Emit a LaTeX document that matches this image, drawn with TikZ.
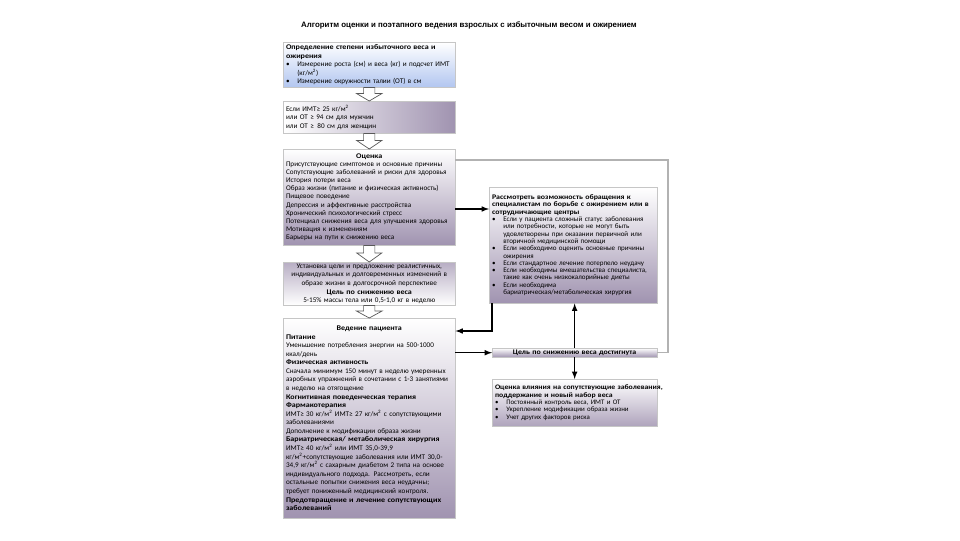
\documentclass[tikz,border=0pt]{standalone}
\usepackage{fontspec}
\setmainfont{Carlito}[BoldFeatures={FakeStretch=1.12}]
\newfontfamily\titlefont{Liberation Sans}
\usepackage{tikz}
\usetikzlibrary{calc}
\definecolor{mauve}{RGB}{160,147,176}
\definecolor{paleblue}{RGB}{178,198,240}
\newcommand{\itm}{\makebox[8pt][l]{\textbullet}}
\newcommand{\cnt}{\hspace*{8pt}}
\newcommand{\kgm}{кг/м\textsuperscript{2}}

\begin{document}
\begin{tikzpicture}[x=0.025cm, y=-0.025cm, >=latex,
	box/.style={draw=gray!45, line width=0.3pt, anchor=north west, inner xsep=2pt, inner ysep=1pt, align=left, font=\fontsize{5.1}{6.1}\selectfont},
	small/.style={font=\fontsize{5}{5.2}\selectfont},
	hollow/.style={draw=gray!70!black, fill=white, line width=0.5pt},
	link/.style={->, line width=0.8pt},
	back/.style={draw=gray!60, line width=0.8pt}]
	%\draw[help lines] (0,0) grid[step=50] (960,540);
	\useasboundingbox (0,0) rectangle (960,540);
	\node[font=\titlefont\bfseries\fontsize{5.6}{6}\selectfont] (title) at (469,25) {Алгоритм оценки и поэтапного ведения взрослых с избыточным весом и ожирением};

	% left column
	\node[box, text width=4.16cm, minimum height=1.125cm, top color=white, bottom color=paleblue] (b1) at (283,42) {\textbf{Определение степени избыточного веса и}\\ \textbf{ожирения}\\ \itm Измерение роста (см) и веса (кг) и подсчет ИМТ\\ \cnt(\kgm)\\ \itm Измерение окружности талии (ОТ) в см};
	\node[box, text width=4.16cm, minimum height=0.8cm, left color=white, right color=mauve] (b2) at (283,101) {Если ИМТ≥ 25 \kgm\\ или ОТ ≥ 94 см для мужчин\\ или ОТ ≥\, 80 см для женщин};
	\node[box, text width=4.16cm, minimum height=2.4cm, top color=white, bottom color=mauve, font=\fontsize{5.1}{5.8}\selectfont] (b3) at (283,149) {\makebox[\linewidth]{\textbf{Оценка}}\\ Присутствующие симптомов и основные причины\\ Сопутствующие заболеваний и риски для здоровья\\ История потери веса\\ Образ жизни (питание и физическая активность)\\ Пищевое поведение\\ Депрессия и аффективные расстройства\\ Хронический психологический стресс\\ Потенциал снижения веса для улучшения здоровья\\ Мотивация к изменениям\\ Барьеры на пути к снижению веса};
	\node[box, text width=4.16cm, minimum height=1.075cm, top color=mauve!75, bottom color=white, align=center] (b4) at (283,262) {Установка цели и предложение реалистичных,\\ индивидуальных и долговременных изменений в\\ образе жизни в долгосрочной перспективе\\ \textbf{Цель по снижению веса}\\ 5-15\% массы тела или 0,5-1,0 кг в неделю};
	\node[box, text width=4.16cm, minimum height=5cm, top color=white, bottom color=mauve] (b5) at (283,318) {\makebox[\linewidth]{\textbf{Ведение пациента}}\\ \textbf{Питание}\\ Уменьшение потребления энергии на 500-1000\\ ккал/день\\ \textbf{Физическая активность}\\ Сначала минимум 150 минут в неделю умеренных\\ аэробных упражнений в сочетании с 1-3 занятиями\\ в неделю на отягощение\\ \textbf{Когнитивная поведенческая терапия}\\ \textbf{Фармакотерапия}\\ ИМТ≥ 30 \kgm{} ИМТ≥ 27 \kgm{} с сопутствующими\\ заболеваниями\\ Дополнение к модификации образа жизни\\ \textbf{Бариатрическая/ метаболическая хирургия}\\ ИМТ≥ 40 \kgm{} или ИМТ 35,0-39,9\\ \kgm+сопутствующие заболевания или ИМТ 30,0-\\ 34,9 \kgm{} с сахарным диабетом 2 типа на основе\\ индивидуального подхода. Рассмотреть, если\\ остальные попытки снижения веса неудачны;\\ требует пониженный медицинский контроля.\\ \textbf{Предотвращение и лечение сопутствующих}\\ \textbf{заболеваний}};

	% right column
	\node[box, small, text width=4.06cm, minimum height=2.9cm, top color=white, bottom color=mauve] (b6) at (489,187) {\textbf{Рассмотреть возможность обращения к}\\ \textbf{специалистам по борьбе с ожирением или в}\\ \textbf{сотрудничающие центры}\\ \itm Если у пациента сложный статус заболевания\\ \cnt или потребности, которые не могут быть\\ \cnt удовлетворены при оказании первичной или\\ \cnt вторичной медицинской помощи\\ \itm Если необходимо оценить основные причины\\ \cnt ожирения\\ \itm Если стандартное лечение потерпело неудачу\\ \itm Если необходимы вмешательства специалиста,\\ \cnt такие как очень низкокалорийные диеты\\ \itm Если необходима\\ \cnt бариатрическая/метаболическая хирургия};
	\node[box, small, text width=3.98cm, minimum height=0.225cm, inner ysep=0pt, top color=white, bottom color=mauve, align=center] (b7) at (492,348) {\textbf{Цель по снижению веса достигнута}};
	\node[box, text width=3.98cm, minimum height=1.175cm, top color=white, bottom color=mauve!85, font=\fontsize{4.9}{5.3}\selectfont] (b8) at (492,379) {\makebox[\linewidth][l]{\textbf{Оценка влияния на сопутствующие заболевания,}}\\ \textbf{поддержание и новый набор веса}\\ \itm Постоянный контроль веса, ИМТ и ОТ\\ \itm Укрепление модификации образа жизни\\ \itm Учет других факторов риска};

	% block arrows
	\foreach \a/\b in {b1/b2, b2/b3, b3/b4, b4/b5}
		\draw[hollow] let \p1=(\a.south), \p2=(\b.north) in
			(\x1-4pt,\y1) -- (\x1-4pt,{0.55*\y1+0.45*\y2}) -- (\x1-9pt,{0.55*\y1+0.45*\y2}) -- (\x1,\y2)
			-- (\x1+9pt,{0.55*\y1+0.45*\y2}) -- (\x1+4pt,{0.55*\y1+0.45*\y2}) -- (\x1+4pt,\y1) -- cycle;

	% connectors
	\coordinate (loop) at (668,160);
	\draw[back] (b3.east |- loop) -- (loop) |- (b7.east);
	\draw[link] ($(b3.north east)+(0,60)$) coordinate (refer) -- (refer -| b6.west);
	\draw[link] ($(b6.south west)+(3,0)$) |- ($(b5.north east)+(0,13)$);
	\draw[link] (b5.east |- b7.west) -- (b7.west);
	\draw[link] (b7.north) -- (b7.north |- b6.south);
	\draw[link] (b7.south) -- (b8.north);
\end{tikzpicture}
\end{document}
